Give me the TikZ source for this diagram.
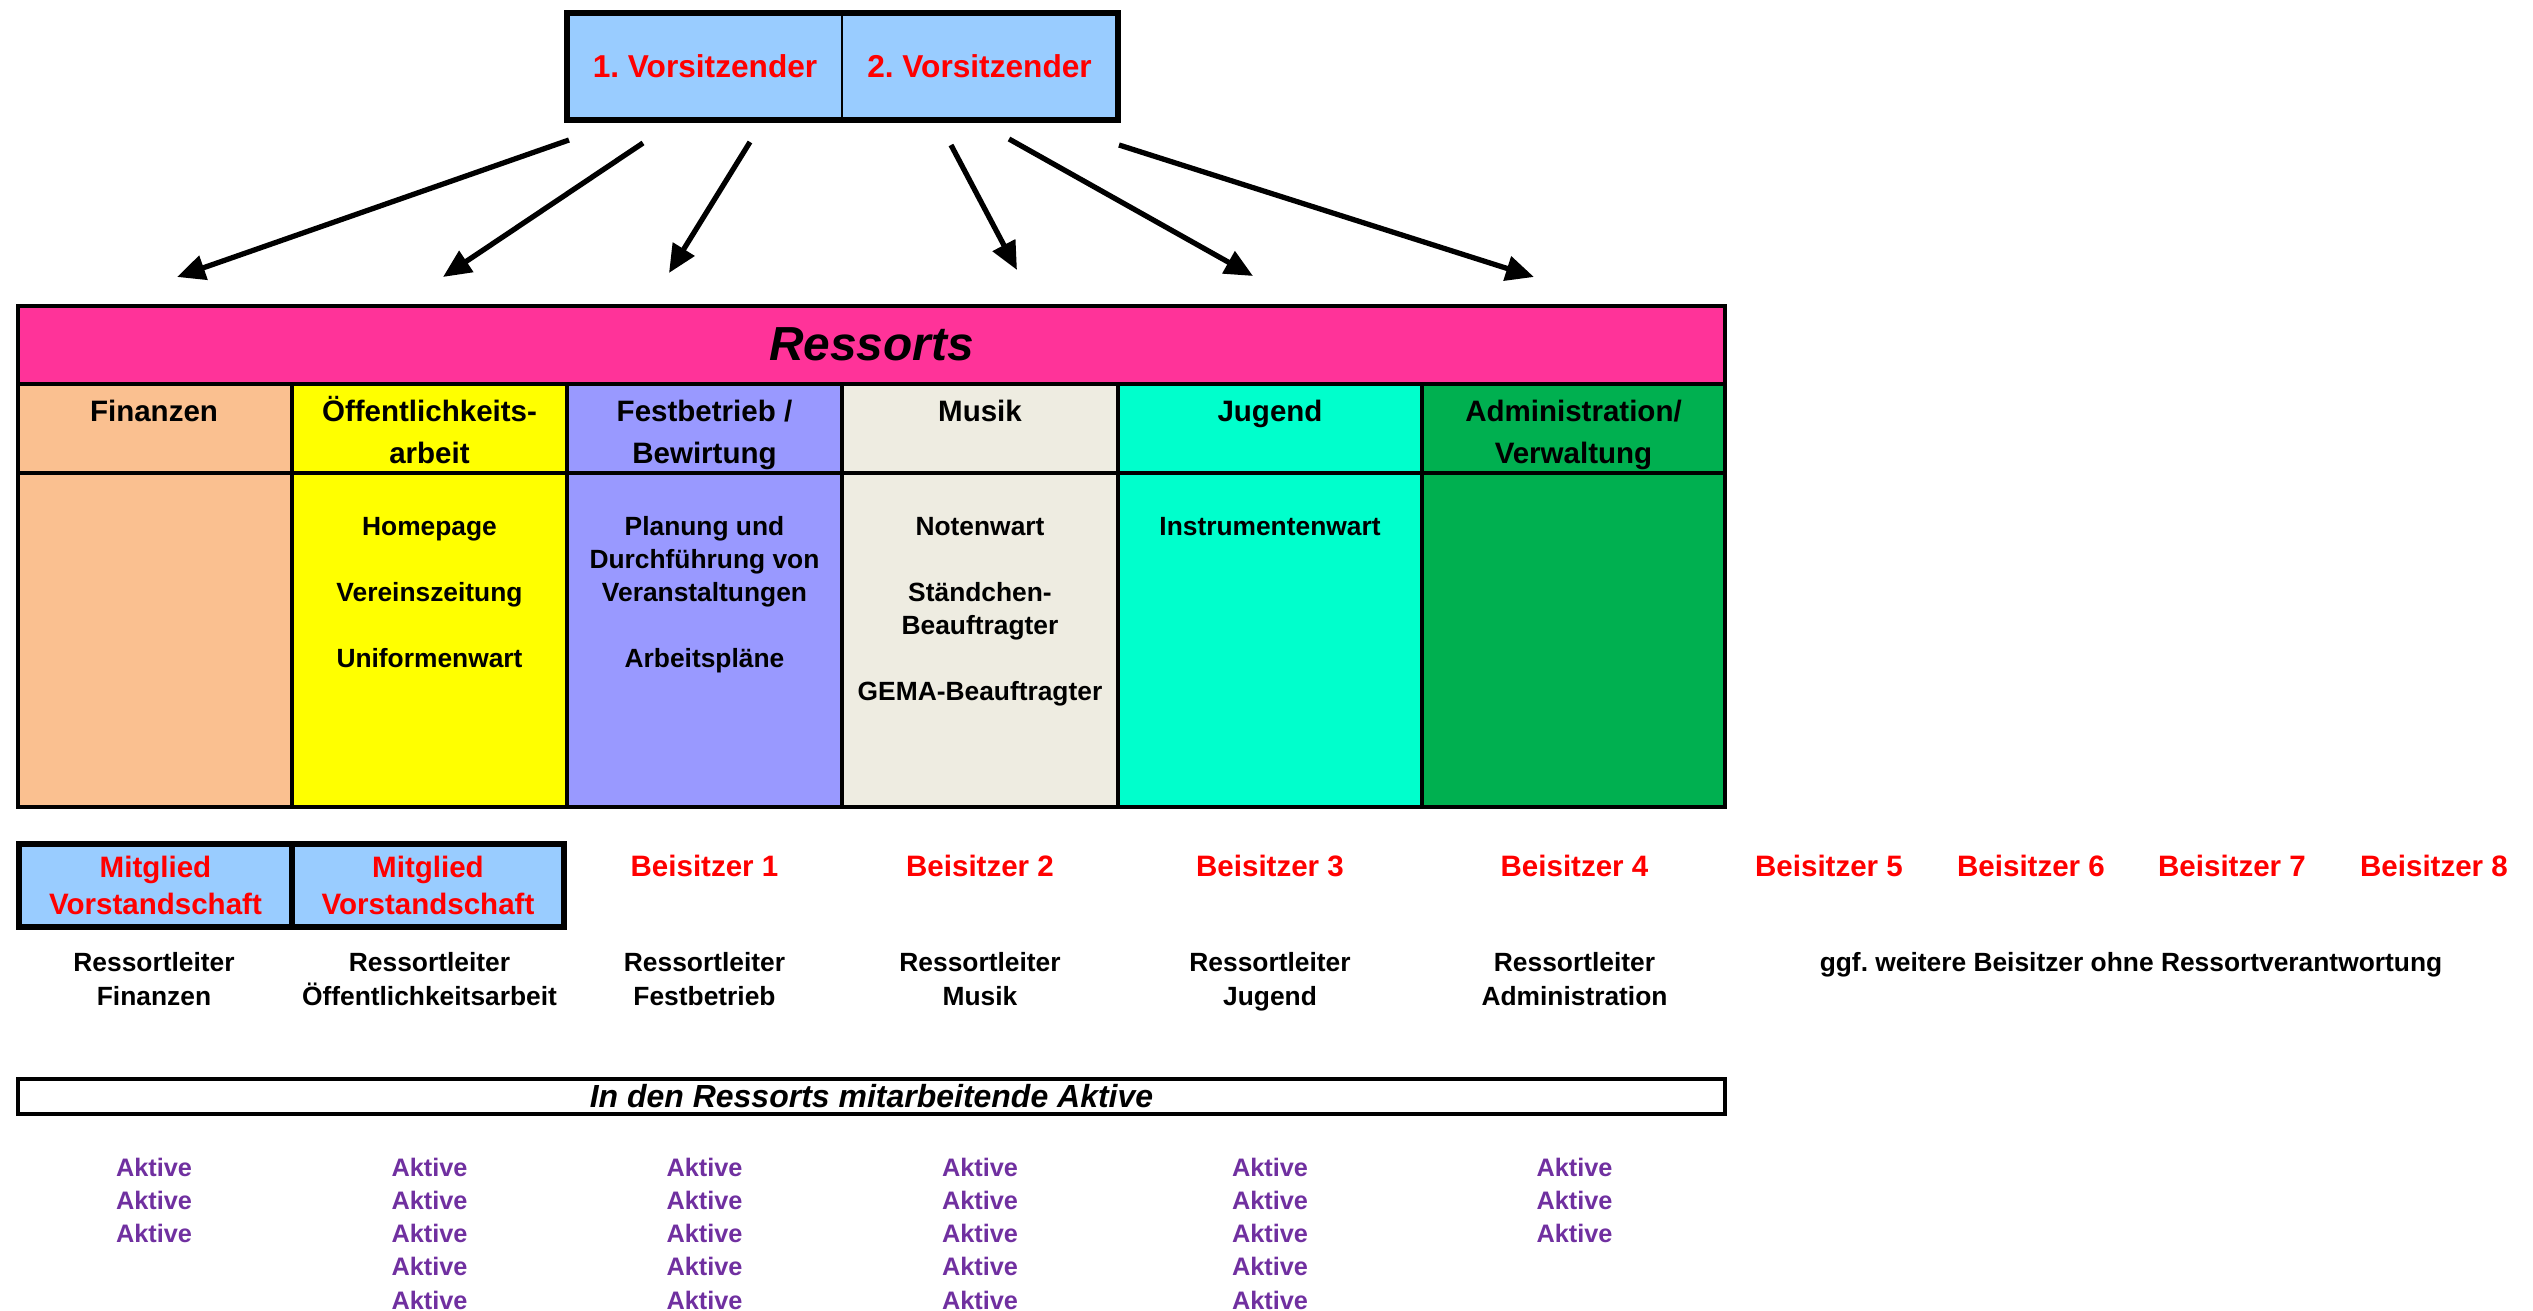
\documentclass[tikz,border=0pt]{standalone}
\usepackage{fontspec}
\setmainfont{Liberation Sans}
\usetikzlibrary{arrows.meta}

\definecolor{vorsblau}{HTML}{99CCFF}
\definecolor{ressortpink}{HTML}{FF3399}
\definecolor{finanzorange}{HTML}{FAC090}
\definecolor{oeffgelb}{HTML}{FFFF00}
\definecolor{festlila}{HTML}{9999FF}
\definecolor{musikgrau}{HTML}{EEECE1}
\definecolor{jugendtuerkis}{HTML}{00FFCC}
\definecolor{admingruen}{HTML}{00B050}
\definecolor{aktivlila}{HTML}{7030A0}

\tikzset{
  vorsbox/.style={fill=vorsblau,draw,line width=0.7pt,minimum height=1.05cm,
    text=red,font=\bfseries\fontsize{9}{11}\selectfont},
  mitbox/.style={fill=vorsblau,draw,line width=1.7pt,minimum height=0.75cm,
    text=red,align=center,font=\bfseries\fontsize{8.4}{10.6}\selectfont},
  rottext/.style={text=red,font=\bfseries\fontsize{8.4}{10.6}\selectfont,inner sep=0pt},
  kopftext/.style={font=\bfseries\fontsize{8.4}{11.9}\selectfont,align=center,inner sep=0pt,anchor=base},
  inhalt/.style={font=\bfseries\fontsize{7.5}{9.4}\selectfont,align=center,inner sep=0pt,anchor=base},
  leiter/.style={font=\bfseries\fontsize{7.5}{9.6}\selectfont,align=center,inner sep=0pt,anchor=base},
  aktiv/.style={text=aktivlila,font=\bfseries\fontsize{7.2}{9}\selectfont,inner sep=0pt},
  pfeil/.style={line width=1.5pt,-{Triangle[length=8pt,width=7pt]}},
}

\begin{document}
\frenchspacing
\begin{tikzpicture}
\useasboundingbox (0,0) rectangle (25.33,-13.11);

% Vorsitzende
\node[vorsbox,minimum width=2.74cm] (vors1) at (7.05,-0.665) {1. Vorsitzender};
\node[vorsbox,minimum width=2.75cm] (vors2) at (9.795,-0.665) {2. Vorsitzender};
\draw[line width=1.7pt] (vors1.north west) rectangle (vors2.south east);

\foreach \i/\xa/\ya/\xb/\yb in {1/5.69/1.40/1.77/2.77, 2/6.43/1.43/4.43/2.77,
    3/7.50/1.42/6.69/2.73, 4/9.51/1.45/10.17/2.70, 5/10.09/1.39/12.53/2.76,
    6/11.19/1.45/15.34/2.77}{
  \coordinate (von\i) at (\xa,-\ya);
  \coordinate (zu\i) at (\xb,-\yb);
  \draw[pfeil] (von\i) -- (zu\i);
}

% Ressorts
\fill[ressortpink] (0.18,-3.06) rectangle (17.25,-3.84);
\foreach \xa/\xb/\farbe in {0.18/2.92/finanzorange, 2.92/5.67/oeffgelb,
    5.67/8.42/festlila, 8.42/11.18/musikgrau, 11.18/14.22/jugendtuerkis,
    14.22/17.25/admingruen}
  \fill[\farbe] (\xa,-3.84) rectangle (\xb,-8.07);
\foreach \x in {2.92,5.67,8.42,11.18,14.22}
  \draw[line width=0.9pt] (\x,-3.84) -- (\x,-8.07);
\draw[line width=1pt] (0.18,-3.84) -- (17.25,-3.84);
\draw[line width=1.4pt] (0.18,-4.73) -- (17.25,-4.73);
\draw[line width=1.4pt] (0.18,-3.06) rectangle (17.25,-8.07);

\node[font=\bfseries\itshape\fontsize{13.6}{16}\selectfont] (ressorts) at (8.715,-3.44) {Ressorts};

% base = Grundlinie der letzten Zeile
\node[kopftext] (kopf1) at (1.54,-4.22) {Finanzen};
\node[kopftext] (kopf2) at (4.295,-4.638) {Öffentlichkeits-\\arbeit};
\node[kopftext] (kopf3) at (7.045,-4.638) {Festbetrieb /\\Bewirtung};
\node[kopftext] (kopf4) at (9.80,-4.22) {Musik};
\node[kopftext] (kopf5) at (12.70,-4.22) {Jugend};
\node[kopftext] (kopf6) at (15.735,-4.638) {Administration/\\Verwaltung};

\node[inhalt] (inhalt2) at (4.295,-6.675) {Homepage\\[9.4pt]Vereinszeitung\\[9.4pt]Uniformenwart};
\node[inhalt] (inhalt3) at (7.045,-6.675) {Planung und\\Durchführung von\\Veranstaltungen\\[9.4pt]Arbeitspläne};
\node[inhalt] (inhalt4) at (9.80,-7.005) {Notenwart\\[9.4pt]Ständchen-\\Beauftragter\\[9.4pt]GEMA-Beauftragter};
\node[inhalt] (inhalt5) at (12.70,-5.353) {Instrumentenwart};

% Vorstandschaft und Beisitzer
\node[mitbox,minimum width=2.73cm] (mit1) at (1.555,-8.855) {Mitglied\\Vorstandschaft};
\node[mitbox,minimum width=2.72cm] (mit2) at (4.28,-8.855) {Mitglied\\Vorstandschaft};

\foreach \x [count=\i] in {7.045,9.80,12.70,15.745,18.29,20.31,22.32,24.34}
  \node[rottext] (beisitzer\i) at (\x,-8.655) {Beisitzer \i};

\node[leiter] (leiter1) at (1.54,-10.055) {Ressortleiter\\Finanzen};
\node[leiter] (leiter2) at (4.295,-10.055) {Ressortleiter\\Öffentlichkeitsarbeit};
\node[leiter] (leiter3) at (7.045,-10.055) {Ressortleiter\\Festbetrieb};
\node[leiter] (leiter4) at (9.80,-10.055) {Ressortleiter\\Musik};
\node[leiter] (leiter5) at (12.70,-10.055) {Ressortleiter\\Jugend};
\node[leiter] (leiter6) at (15.745,-10.055) {Ressortleiter\\Administration};
\node[leiter] (weitere) at (21.31,-9.715) {ggf. weitere Beisitzer ohne Ressortverantwortung};

% Aktive
\node[draw,line width=1pt,minimum width=17.07cm,minimum height=0.35cm,inner sep=0pt,
  font=\bfseries\itshape\fontsize{9.1}{11}\selectfont] (aktivkasten) at (8.715,-10.965)
  {In den Ressorts mitarbeitende Aktive};

\foreach \x/\n [count=\i] in {1.54/3,4.295/5,7.045/5,9.80/5,12.70/5,15.745/3}
  \foreach \j in {1,...,\n}
    \node[aktiv] (aktiv\i-\j) at (\x,{-11.67-0.3325*(\j-1)}) {Aktive};
\end{tikzpicture}
\end{document}
